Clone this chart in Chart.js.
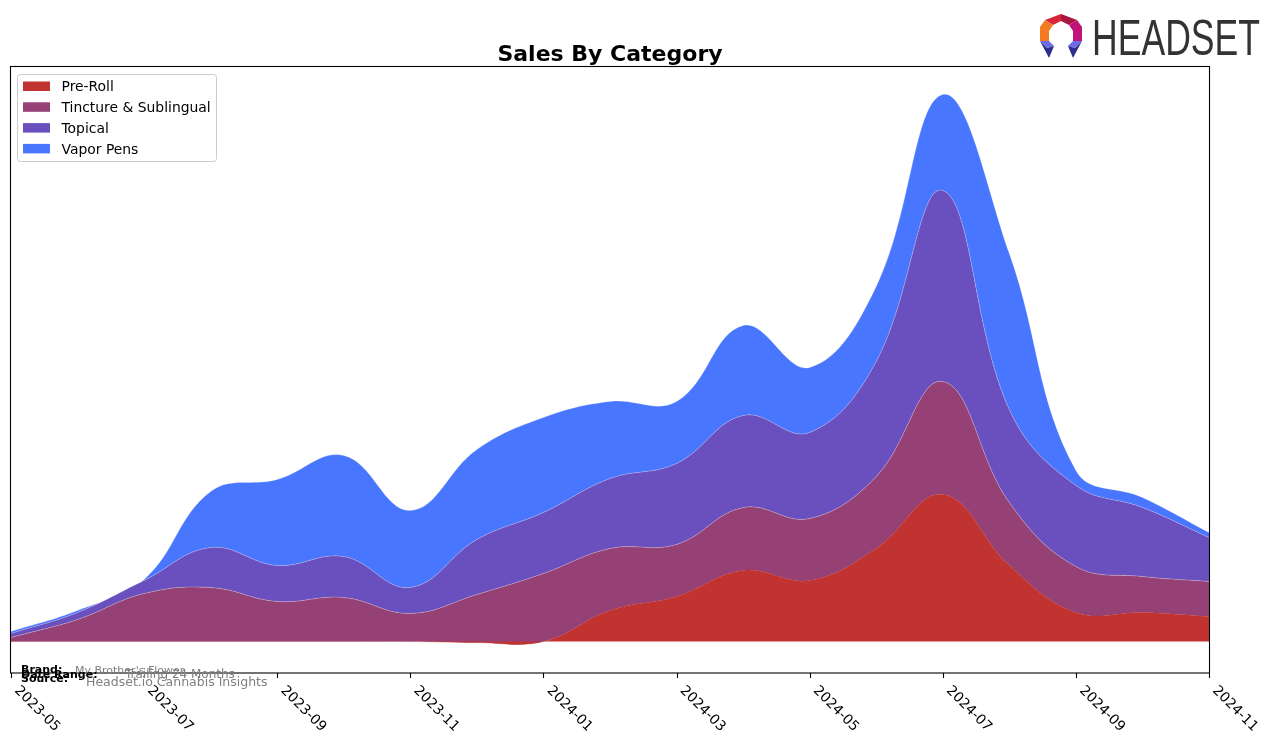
<!DOCTYPE html>
<html>
<head>
<meta charset="utf-8">
<script src="https://cdn.jsdelivr.net/npm/chart.js@4/dist/chart.umd.min.js"></script>
<style>
  html, body { margin: 0; padding: 0; background: #fff; }
  #wrap { position: relative; width: 1276px; height: 743px; overflow: hidden; }
  #c { position: absolute; left: 0; top: 0; }
  #logo { position: absolute; left: 1030px; top: 0; }
</style>
</head>
<body>
<div id="wrap">
  <canvas id="c" width="1276" height="743"></canvas>
  <svg id="logo" width="246" height="70" viewBox="0 0 246 70">
    <g transform="translate(8,13)">
      <polygon points="7,7 23,1 23,8 15,12" fill="#D9263A"/>
      <polygon points="23,1 39,7 31,12 23,8" fill="#A8173F"/>
      <polygon points="2,14 7,7 15,12 11,18 11,28 2,28" fill="#F47A22"/>
      <polygon points="39,7 44,14 44,28 35,28 35,18 31,12" fill="#BF1478"/>
      <polygon points="2,28 11,28 16,33 9,35" fill="#6C6CE8"/>
      <polygon points="2,28 9,35 16,33 11,45" fill="#2E2E8E"/>
      <polygon points="44,28 35,28 30,33 37,35" fill="#6C6CE8"/>
      <polygon points="44,28 37,35 30,33 35,45" fill="#2E2E8E"/>
    </g>
    <text x="62" y="55" font-family="Liberation Sans, Arial, sans-serif" font-size="50" fill="#333" textLength="168" lengthAdjust="spacingAndGlyphs">HEADSET</text>
  </svg>
</div>
<script>
// ---- data ----
const months = ['2023-05','2023-06','2023-07','2023-08','2023-09','2023-10','2023-11','2023-12',
                '2024-01','2024-02','2024-03','2024-04','2024-05','2024-06','2024-07','2024-08',
                '2024-09','2024-10','2024-11'];
const tickLabels = ['2023-05','2023-07','2023-09','2023-11','2024-01','2024-03','2024-05','2024-07','2024-09','2024-11'];
const seriesNames = ['Pre-Roll','Tincture & Sublingual','Topical','Vapor Pens'];
const preRoll   = [0,0,0,0,0,0,0,-1,0,31,45,71,61,93,147,76,29,29,25];
const tincture  = [4,22,48,54,40,44,28,47,68,62,52,63,62,72,113,63,46,36,35];
const topical   = [4,7,13,40,36,41,26,55,61,70,81,92,86,115,191,93,81,69,44];
const vaporPens = [2,2,1,56,86,101,77,90,95,77,62,90,65,75,96,156,15,10,5];
const seriesColors = ['#C03331','#954176','#6A4FBE','#4876FF'];

const title = 'Sales By Category';
const footer = [
  ['Brand:', "My Brother's Flower"],
  ['Date Range:', 'Trailing 24 Months'],
  ['Source:', 'Headset.io Cannabis Insights']
];

const seriesData = [preRoll, tincture, topical, vaporPens];

const decor = {
  id: 'decor',
  afterDraw(chart) {
    const ctx = chart.ctx;
    const a = chart.chartArea;
    const xs = chart.scales.x;
    ctx.save();
    // plot frame
    ctx.strokeStyle = '#000';
    ctx.lineWidth = 1.1;
    ctx.strokeRect(a.left - 0.5, a.top - 0.5, a.right - a.left + 1, a.bottom - a.top + 0.5);
    // ticks and rotated labels
    ctx.font = '13.9px "DejaVu Sans"';
    ctx.fillStyle = '#000';
    ctx.textAlign = 'left';
    ctx.textBaseline = 'alphabetic';
    tickLabels.forEach(lbl => {
      const i = months.indexOf(lbl);
      const x = xs.getPixelForValue(i);
      ctx.beginPath();
      ctx.moveTo(Math.round(x) + 0.5, a.bottom);
      ctx.lineTo(Math.round(x) + 0.5, a.bottom + 5);
      ctx.stroke();
      ctx.save();
      ctx.translate(x + 3, a.bottom + 18);
      ctx.rotate(Math.PI / 4);
      ctx.fillText(lbl, 0, 0);
      ctx.restore();
    });
    // title
    ctx.font = 'bold 22px "DejaVu Sans"';
    ctx.textAlign = 'center';
    ctx.fillText(title, (a.left + a.right) / 2, 61);
    // legend
    ctx.textAlign = 'left';
    ctx.fillStyle = 'rgba(255,255,255,0.85)';
    ctx.strokeStyle = '#cccccc';
    ctx.lineWidth = 1;
    ctx.beginPath();
    ctx.roundRect(17.5, 74.5, 199, 87, 3);
    ctx.fill();
    ctx.stroke();
    ctx.font = '13.9px "DejaVu Sans"';
    seriesNames.forEach((n, k) => {
      const cy = 86.2 + k * 20.8;
      ctx.fillStyle = seriesColors[k];
      ctx.fillRect(23, cy - 4.7, 27, 9.5);
      ctx.fillStyle = '#000';
      ctx.fillText(n, 61.5, cy + 5.1);
    });
    // footer
    const ys = [673.3, 677.8, 682.4];
    const vx = [75, 125, 86];
    const vy = [673.5, 678.3, 685.7];
    const vf = [11, 12, 12.5];
    footer.forEach((f, k) => {
      ctx.fillStyle = '#000';
      ctx.font = 'bold 11px "DejaVu Sans"';
      ctx.fillText(f[0], 21, ys[k]);
      ctx.fillStyle = '#808080';
      ctx.font = vf[k] + 'px "DejaVu Sans"';
      ctx.fillText(f[1], vx[k], vy[k]);
    });
    ctx.restore();
  }
};

new Chart(document.getElementById('c'), {
  type: 'line',
  data: {
    labels: months,
    datasets: seriesNames.map((n, k) => ({
      label: n,
      data: seriesData[k],
      backgroundColor: seriesColors[k],
      borderColor: k === 0 ? 'rgba(192,51,49,0.35)' : 'rgba(255,255,255,0.25)',
      borderWidth: 1,
      pointRadius: 0,
      tension: 0.4,
      fill: k === 0 ? 'origin' : '-1'
    }))
  },
  options: {
    responsive: false,
    animation: false,
    devicePixelRatio: 1,
    layout: { padding: { left: 11, top: 67, right: 67, bottom: 70 } },
    scales: {
      x: { display: false },
      y: { display: false, stacked: true, min: -31.5, max: 574.5 }
    },
    plugins: {
      legend: { display: false },
      title: { display: false },
      tooltip: { enabled: false }
    }
  },
  plugins: [decor]
});
</script>
</body>
</html>
